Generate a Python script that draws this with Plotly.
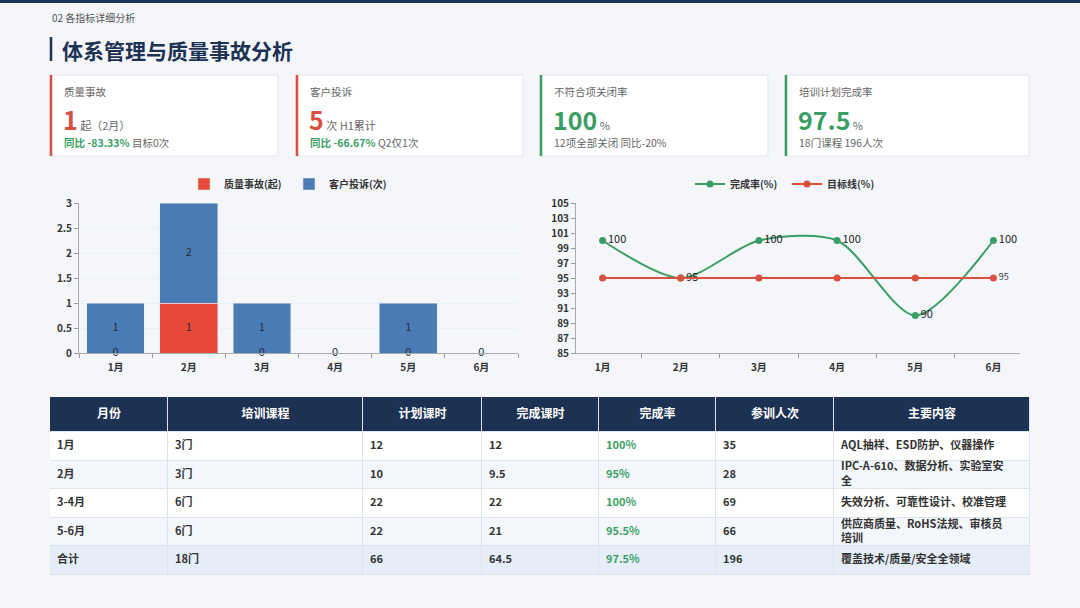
import plotly.graph_objects as go

# ---- data ----
months = ["1月", "2月", "3月", "4月", "5月", "6月"]
quality_incidents = [0, 1, 0, 0, 0, 0]
customer_complaints = [1, 2, 1, 0, 1, 0]
training_rate = [100, 95, 100, 100, 90, 100]
target_rate = [95, 95, 95, 95, 95, 95]

kpi_labels = ["质量事故", "客户投诉", "不符合项关闭率", "培训计划完成率"]
kpi_values = ["1", "5", "100", "97.5"]
kpi_units = ["起（2月）", "次 H1累计", "%", "%"]
kpi_notes_hl = ["同比 -83.33%", "同比 -66.67%", "", ""]
kpi_notes = [" 目标0次", " Q2仅1次", "12项全部关闭 同比-20%", "18门课程 196人次"]

tbl_header = ["月份", "培训课程", "计划课时", "完成课时", "完成率", "参训人次", "主要内容"]
tbl_month = ["1月", "2月", "3-4月", "5-6月", "合计"]
tbl_course = ["3门", "3门", "6门", "6门", "18门"]
tbl_plan = ["12", "10", "22", "22", "66"]
tbl_done = ["12", "9.5", "22", "21", "64.5"]
tbl_rate = ["100%", "95%", "100%", "95.5%", "97.5%"]
tbl_people = ["35", "28", "69", "66", "196"]
tbl_content = ["AQL抽样、ESD防护、仪器操作",
               "IPC-A-610、数据分析、实验室安<br>全",
               "失效分析、可靠性设计、校准管理",
               "供应商质量、RoHS法规、审核员<br>培训",
               "覆盖技术/质量/安全全领域"]

# ---- style ----
W, H = 1080, 608
FONT = "Noto Sans CJK SC"
NAVY = "#1d3253"
RED = "#d9503f"
GREEN = "#3a9e64"
BLUE = "#4b7bb5"
BAR_RED = "#e6483a"
GREY = "#666666"
TXT = "#333333"


def px(x):
    return x / W


def py(y):
    return 1 - y / H


fig = go.Figure()

# 柱状图：质量事故 + 客户投诉（堆叠）
fig.add_trace(go.Bar(x=months, y=quality_incidents, name="质量事故(起)",
                     marker_color=BAR_RED, xaxis="x", yaxis="y", legend="legend"))
fig.add_trace(go.Bar(x=months, y=customer_complaints, name="客户投诉(次)",
                     marker_color=BLUE, xaxis="x", yaxis="y", legend="legend"))
# 柱内数值标签（含0值）
lbl_font = dict(size=11, color="#1f2d3d", family=FONT)
fig.add_trace(go.Scatter(x=months, y=[v / 2 for v in quality_incidents],
                         text=[str(v) for v in quality_incidents], mode="text", textfont=lbl_font,
                         cliponaxis=False, showlegend=False, hoverinfo="skip", xaxis="x", yaxis="y"))
fig.add_trace(go.Scatter(x=months,
                         y=[q + c / 2 for q, c in zip(quality_incidents, customer_complaints)],
                         text=[str(v) if v else "" for v in customer_complaints], mode="text",
                         textfont=lbl_font, cliponaxis=False,
                         showlegend=False, hoverinfo="skip", xaxis="x", yaxis="y"))

# 折线图：培训完成率
fig.add_trace(go.Scatter(x=months, y=training_rate, name="完成率(%)",
                         mode="lines+markers+text",
                         line=dict(color=GREEN, width=2, shape="spline", smoothing=0.8),
                         marker=dict(size=7, color=GREEN),
                         text=[str(v) for v in training_rate], textposition="middle right",
                         textfont=dict(size=11, color="#222222", family=FONT), cliponaxis=False,
                         xaxis="x2", yaxis="y2", legend="legend2"))
fig.add_trace(go.Scatter(x=months, y=target_rate, name="目标线(%)",
                         mode="lines+markers+text", line=dict(color=RED, width=2),
                         marker=dict(size=7, color=RED),
                         text=[""] * (len(target_rate) - 1) + [str(target_rate[-1])],
                         textposition="middle right", cliponaxis=False,
                         textfont=dict(size=9, color=TXT, family=FONT),
                         xaxis="x2", yaxis="y2", legend="legend2"))

# ---- 表格（热力图作单元格底色 + 文本） ----
columns = [tbl_month, tbl_course, tbl_plan, tbl_done, tbl_rate, tbl_people, tbl_content]
col_w = [118, 195, 119, 117, 117, 118, 196]
head_h, row_h = 35, 28.6
n_rows = len(tbl_month)
x_edges = [0]
for w in col_w:
    x_edges.append(x_edges[-1] + w)
y_edges = [0, head_h] + [head_h + row_h * (i + 1) for i in range(n_rows)]
row_kind = [0, 1, 2, 1, 2, 3]  # 0 表头, 1 白, 2 浅灰, 3 合计
z = [[k] * len(col_w) for k in row_kind]
fig.add_trace(go.Heatmap(
    x=x_edges, y=y_edges, z=z, zmin=0, zmax=3, showscale=False, hoverinfo="skip",
    xgap=1, ygap=1,
    colorscale=[[0, NAVY], [1 / 6, NAVY], [1 / 6, "#ffffff"], [0.5, "#ffffff"],
                [0.5, "#f3f6fa"], [5 / 6, "#f3f6fa"], [5 / 6, "#e5eef8"], [1, "#e5eef8"]],
    xaxis="x3", yaxis="y3"))

x_mid = [(a + b) / 2 for a, b in zip(x_edges[:-1], x_edges[1:])]
fig.add_trace(go.Scatter(x=x_mid, y=[head_h / 2] * len(col_w),
                         text=[f"<b>{h}</b>" for h in tbl_header], mode="text",
                         textposition="middle center",
                         textfont=dict(size=12, color="white", family=FONT),
                         showlegend=False, hoverinfo="skip", xaxis="x3", yaxis="y3"))
cell_colors = [TXT, TXT, TXT, TXT, GREEN, TXT, TXT]
cx, cy, ct, cc = [], [], [], []
for j, col in enumerate(columns):
    for i, val in enumerate(col):
        cx.append(x_edges[j] + 7)
        cy.append((y_edges[i + 1] + y_edges[i + 2]) / 2)
        ct.append(val)
        cc.append(cell_colors[j])
fig.add_trace(go.Scatter(x=cx, y=cy, text=ct, mode="text", textposition="middle right",
                         textfont=dict(size=11, color=cc, family=FONT, weight="bold"),
                         showlegend=False, hoverinfo="skip", cliponaxis=False,
                         xaxis="x3", yaxis="y3"))

axis_font = dict(size=10, color=TXT, family=FONT, weight="bold")

# ---- 装饰：顶栏、标题、KPI卡片 ----
shapes = [
    dict(type="rect", xref="paper", yref="paper", x0=0, x1=1, y0=py(3), y1=1,
         fillcolor="#1b3556", line_width=0, layer="below"),
    dict(type="line", xref="paper", yref="paper", x0=px(51), x1=px(51), y0=py(37), y1=py(61),
         line=dict(color=NAVY, width=2.5)),
    dict(type="rect", xref="x3", yref="y3", x0=0, x1=x_edges[-1], y0=0, y1=y_edges[-1],
         fillcolor="#dde3ea", line_width=0, layer="below"),
]
annotations = [
    dict(text="02 各指标详细分析", x=px(50), y=py(18), xanchor="left", yanchor="middle",
         font=dict(size=10, color="#555555", family=FONT)),
    dict(text="<b>体系管理与质量事故分析</b>", x=px(60), y=py(50), xanchor="left", yanchor="middle",
         font=dict(size=21, color=NAVY, family=FONT)),
]
cards = [(50, 278), (296, 523), (540, 768), (785, 1029)]
accent = [RED, RED, GREEN, GREEN]
for i, (x0, x1) in enumerate(cards):
    shapes.append(dict(type="rect", xref="paper", yref="paper", x0=px(x0), x1=px(x1),
                       y0=py(156), y1=py(75), fillcolor="white",
                       line=dict(color="#e0e4ea", width=1), layer="below"))
    shapes.append(dict(type="line", xref="paper", yref="paper", x0=px(x0 + 1), x1=px(x0 + 1),
                       y0=py(156), y1=py(75), line=dict(color=accent[i], width=2.5)))
    annotations.append(dict(text=kpi_labels[i], x=px(x0 + 12), y=py(92), xanchor="left",
                            yanchor="middle", font=dict(size=10.5, color=GREY, family=FONT)))
    annotations.append(dict(
        text=f"<b><span style='font-size:25px;color:{accent[i]}'>{kpi_values[i]}</span></b>"
             f"<span style='font-size:11px;color:{GREY}'> {kpi_units[i]}</span>",
        x=px(x0 + 11), y=py(139), xanchor="left", yanchor="bottom",
        font=dict(size=11, color=GREY, family=FONT)))
    note = (f"<b><span style='color:{GREEN}'>{kpi_notes_hl[i]}</span></b>" if kpi_notes_hl[i] else "")
    annotations.append(dict(text=note + kpi_notes[i], x=px(x0 + 12), y=py(142), xanchor="left",
                            yanchor="middle", font=dict(size=10.5, color=GREY, family=FONT)))

for a in annotations:
    a.update(xref="paper", yref="paper", showarrow=False)

fig.update_layout(
    width=W, height=H,
    margin=dict(l=0, r=0, t=0, b=0, autoexpand=False),
    paper_bgcolor="#f4f6fa",
    plot_bgcolor="rgba(0,0,0,0)",
    font=dict(family=FONT),
    barmode="stack",
    bargap=0.21,
    xaxis=dict(domain=[px(79), px(518)], tickson="boundaries", ticks="outside", ticklen=4,
               tickcolor="#999999", showline=True, linecolor="#aaaaaa", tickfont=axis_font,
               ticklabelstandoff=5, showgrid=False),
    yaxis=dict(domain=[py(353), py(203)], range=[0, 3], dtick=0.5, showline=True,
               linecolor="#aaaaaa", ticks="outside", ticklen=4, tickcolor="#999999",
               tickfont=axis_font, showgrid=True, gridcolor="#eceff3", zeroline=False,
               anchor="x"),
    xaxis2=dict(domain=[px(576), px(1020)], tickson="boundaries", ticks="outside", ticklen=4,
                tickcolor="#999999", showline=True, linecolor="#aaaaaa", tickfont=axis_font,
                ticklabelstandoff=5, showgrid=False, anchor="y2"),
    yaxis2=dict(domain=[py(353), py(203)], range=[85, 105], tick0=85, dtick=2, showline=True,
                linecolor="#aaaaaa", ticks="outside", ticklen=4, tickcolor="#999999",
                tickfont=axis_font, showgrid=False, zeroline=False, anchor="x2"),
    xaxis3=dict(domain=[px(50), px(1030)], range=[0, x_edges[-1]], visible=False, anchor="y3"),
    yaxis3=dict(domain=[py(575), py(397)], range=[y_edges[-1], 0], visible=False, anchor="x3"),
    legend=dict(orientation="h", x=px(289), y=py(184), xanchor="center", yanchor="middle",
                font=dict(size=10, color=TXT, family=FONT, weight="bold"),
                itemwidth=30, entrywidth=60, bgcolor="rgba(0,0,0,0)", traceorder="normal"),
    legend2=dict(orientation="h", x=px(787), y=py(184), xanchor="center", yanchor="middle",
                 font=dict(size=10, color=TXT, family=FONT, weight="bold"),
                 itemwidth=30, entrywidth=52, bgcolor="rgba(0,0,0,0)"),
    shapes=shapes,
    annotations=annotations,
)

# 页面去掉默认边距，图表贴齐窗口左上角
fig.write_html("out.html", config={"displayModeBar": False}, post_script=(
    "document.body.style.margin='0';"
    "var d=document.getElementById('{plot_id}');"
    "d.style.position='absolute';d.style.left='0';d.style.top='0';"))
